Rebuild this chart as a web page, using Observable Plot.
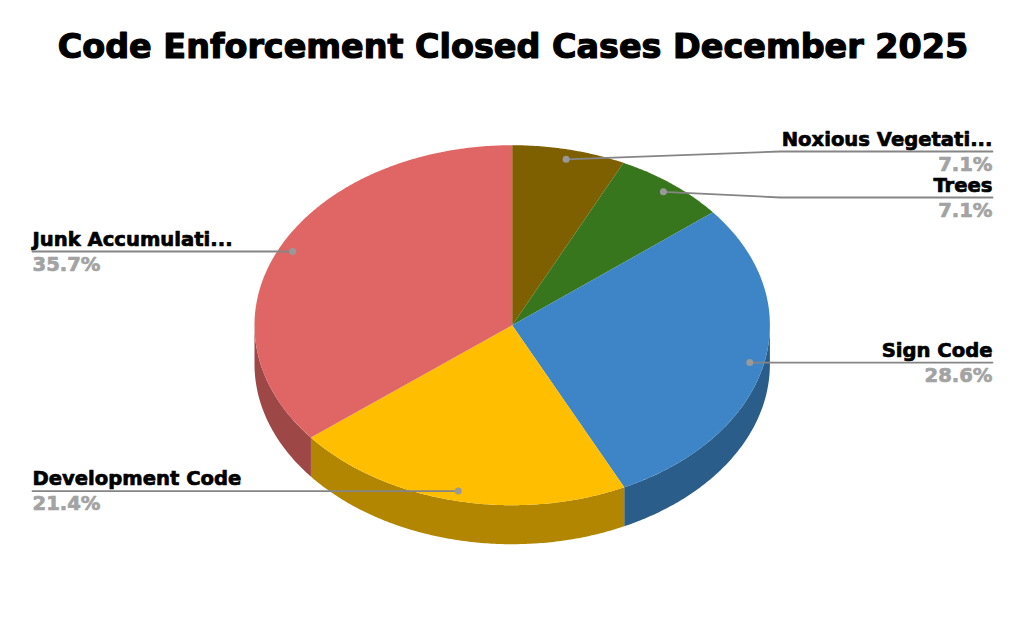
<!DOCTYPE html>
<html>
<head>
<meta charset="utf-8">
<script src="https://cdn.jsdelivr.net/npm/d3@7"></script>
<script src="https://cdn.jsdelivr.net/npm/@observablehq/plot@0.6"></script>
<style>
html,body{margin:0;padding:0;background:#fff;overflow:hidden}
</style>
</head>
<body>
<div id="chart"></div>
<script>
const categories = ["Noxious Vegetati...", "Trees", "Sign Code", "Development Code", "Junk Accumulati..."];
const percents = [7.1, 7.1, 28.6, 21.4, 35.7];
const topColors = ["#7f6000", "#38761d", "#3d85c6", "#ffbf00", "#e06666"];
const sideColors = ["#594300", "#275214", "#2b5d8b", "#b28600", "#9d4747"];
const titleText = "Code Enforcement Closed Cases December 2025";

// Chart geometry (in x/y scale units)
const cx = 511.7, cy = 324.7, rx = 257.7, ry = 180, depth = 39;
const total = d3.sum(percents);
const leftX = 32, rightX = 992, elbowX = 780;
const leaderY = [151, 197, null, null, null];
const fontFamily = "DejaVu Sans";

const pt = (a, r = 1, dy = 0) => ({
  x: cx + rx * r * Math.sin(a),
  y: cy - ry * r * Math.cos(a) + dy
});
const arc = (a0, a1, r = 1, dy = 0) => {
  const n = Math.max(2, Math.ceil(Math.abs(a1 - a0) / 0.01));
  return d3.range(n + 1).map(i => pt(a0 + (a1 - a0) * i / n, r, dy));
};

let acc = 0;
const slices = categories.map((name, i) => {
  const a0 = acc / total * 2 * Math.PI;
  acc += percents[i];
  const a1 = acc / total * 2 * Math.PI;
  return {name, pct: percents[i], a0, a1, mid: (a0 + a1) / 2, top: topColors[i], side: sideColors[i], i};
});

const marks = [];
// Side walls, visible on the front half only
for (const s of slices) {
  const from = Math.max(s.a0, Math.PI / 2), to = Math.min(s.a1, 3 * Math.PI / 2);
  if (to <= from) continue;
  const poly = [...arc(from, to), ...arc(to, from, 1, depth)];
  marks.push(Plot.line(poly, {x: "x", y: "y", fill: s.side, stroke: null}));
}
// Top faces
for (const s of slices) {
  const poly = [{x: cx, y: cy}, ...arc(s.a0, s.a1)];
  marks.push(Plot.line(poly, {x: "x", y: "y", fill: s.top, stroke: null}));
}
// Leaders, dots and labels
for (const s of slices) {
  const d = pt(s.mid, 0.945);
  const right = Math.sin(s.mid) > 0;
  const endX = right ? rightX : leftX;
  const ly = leaderY[s.i] ?? d.y;
  const path = leaderY[s.i] != null
    ? [d, {x: elbowX, y: ly}, {x: endX, y: ly}]
    : [d, {x: endX, y: ly}];
  marks.push(Plot.line(path, {x: "x", y: "y", stroke: "#858585", strokeWidth: 1.8}));
  marks.push(Plot.dot([d], {x: "x", y: "y", r: 3.5, fill: "#999999", stroke: null}));
  marks.push(Plot.text([s], {
    x: () => endX, y: () => ly - 12, text: "name",
    textAnchor: right ? "end" : "start", fontSize: 19.6, fontWeight: 700,
    fontFamily, fill: "#000", stroke: "#000", strokeWidth: 0.7
  }));
  marks.push(Plot.text([s], {
    x: () => endX, y: () => ly + 13, text: d => d.pct.toFixed(1) + "%",
    textAnchor: right ? "end" : "start", fontSize: 19.6, fontWeight: 700,
    fontFamily, fill: "#a3a3a3", stroke: "#a3a3a3", strokeWidth: 0.7
  }));
}
marks.push(Plot.text([titleText], {
  x: () => 512.5, y: () => 47, text: d => d, textAnchor: "middle",
  fontSize: 33.4, fontWeight: 700, fontFamily,
  fill: "#000", stroke: "#000", strokeWidth: 1.2
}));

const chart = Plot.plot({
  width: 1024, height: 633,
  margin: 0,
  x: {domain: [0, 1024], range: [0, 1024], axis: null},
  y: {domain: [0, 633], range: [0, 633], axis: null},
  style: {background: "#fff"},
  marks
});
document.getElementById("chart").append(chart);
</script>
</body>
</html>
